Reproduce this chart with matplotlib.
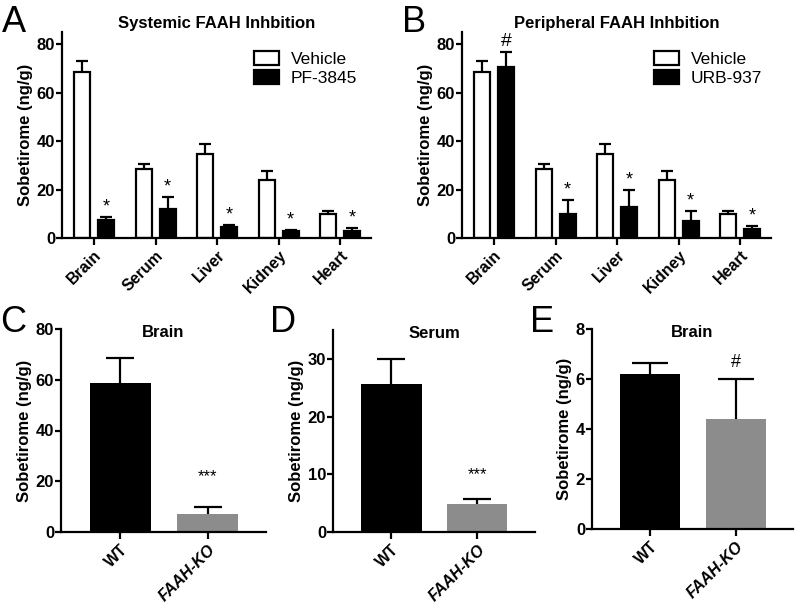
import numpy as np
import matplotlib
matplotlib.use('Agg')
import matplotlib.pyplot as plt

plt.rcParams['font.family'] = ['Liberation Sans', 'DejaVu Sans']

# panel A / B data
tissues = ['Brain', 'Serum', 'Liver', 'Kidney', 'Heart']
vehicle = [68.4, 28.3, 34.8, 23.9, 10.1]
vehicle_err = [4.8, 2.1, 3.9, 3.6, 1.1]
pf3845 = [7.5, 12.0, 4.7, 3.0, 3.0]
pf3845_err = [1.1, 4.9, 0.8, 0.4, 1.1]
urb937 = [70.4, 10.1, 12.8, 7.2, 3.7]
urb937_err = [6.4, 5.5, 7.1, 3.8, 1.4]
sig_a = ['*', '*', '*', '*', '*']
sig_b = ['#', '*', '*', '*', '*']

# panels C-E data
genotypes = ['WT', 'FAAH-KO']
brain_c = [58.8, 7.1]
brain_c_err = [9.6, 2.9]
serum_d = [25.6, 4.8]
serum_d_err = [4.4, 0.9]
brain_e = [6.21, 4.41]
brain_e_err = [0.44, 1.60]

W, H = 800, 607
fig = plt.figure(figsize=(8, 6.07), dpi=100)


def px_axes(left, right, top, bottom):
    return fig.add_axes([left / W, (H - bottom) / H, (right - left) / W, (bottom - top) / H])


def style(ax):
    for s in ['top', 'right']:
        ax.spines[s].set_visible(False)
    for s in ['left', 'bottom']:
        ax.spines[s].set_linewidth(1.6)
    ax.tick_params(axis='y', width=1.6, length=4, labelsize=12, pad=1)
    ax.tick_params(axis='x', width=1.6, length=5, labelsize=11.5, pad=2)
    for lab in ax.get_yticklabels():
        lab.set_fontweight('bold')
    ax.set_ylabel('Sobetirome (ng/g)', fontsize=12, fontweight='bold', labelpad=3)


def up_err(ax, x, vals, errs, cap):
    # one-sided (upper) error bars, lower cap hidden
    eb = ax.errorbar(x, vals, yerr=[np.zeros(len(vals)), errs], fmt='none',
                     ecolor='black', elinewidth=1.6, capsize=cap, capthick=1.6, zorder=1)
    eb[1][0].set_visible(False)


def grouped(ax, treat, treat_err, treat_name, sig, title):
    x = np.arange(len(tissues))
    off, w = 0.195, 0.26
    ax.bar(x - off, vehicle, w, color='white', edgecolor='black', linewidth=1.6,
           label='Vehicle', zorder=2)
    up_err(ax, x - off, vehicle, vehicle_err, 4)
    ax.bar(x + off, treat, w, color='black', edgecolor='black', linewidth=1.6,
           label=treat_name, zorder=2)
    up_err(ax, x + off, treat, treat_err, 4)
    for xi, v, e, s in zip(x, treat, treat_err, sig):
        ax.annotate(s, (xi + off, v + e), xytext=(0, 1), textcoords='offset points',
                    ha='center', va='bottom', fontsize=13 if s == '*' else 14,
                    annotation_clip=False)
    ax.set_xlim(-0.52, 4.5)
    ax.set_ylim(0, 85)
    ax.set_yticks([0, 20, 40, 60, 80])
    ax.set_xticks(x)
    ax.set_xticklabels(tissues, rotation=45, ha='right', rotation_mode='anchor',
                       fontweight='bold')
    style(ax)
    ax.legend(loc='upper left', bbox_to_anchor=(0.6, 0.94), frameon=False, fontsize=12.5,
              handlelength=1.4, handleheight=0.8, labelspacing=0.2, handletextpad=0.7,
              borderaxespad=0)
    ax.set_title(title, fontsize=12, fontweight='bold', pad=3)


def pair(ax, vals, errs, ymax, ticks, sig, sig_y, title, cap):
    x = np.arange(2)
    ax.bar(x, vals, 0.7, color=['black', '#8c8c8c'], zorder=2)
    up_err(ax, x, vals, errs, cap)
    ax.text(1, sig_y, sig, ha='center', va='center', fontsize=13 if sig == '#' else 12)
    ax.set_xlim(-0.68, 1.67)
    ax.set_ylim(0, ymax)
    ax.set_yticks(ticks)
    ax.set_xticks(x)
    ax.set_xticklabels(genotypes, rotation=45, ha='right', rotation_mode='anchor',
                       fontweight='bold')
    ax.get_xticklabels()[1].set_fontstyle('italic')
    style(ax)
    ax.text(0.5, 0.96, title, transform=ax.transAxes, ha='center', va='baseline',
            fontsize=12, fontweight='bold')


axA = px_axes(62, 371, 32, 238)
grouped(axA, pf3845, pf3845_err, 'PF-3845', sig_a, 'Systemic FAAH Inhbition')
axB = px_axes(462, 771, 32, 238)
grouped(axB, urb937, urb937_err, 'URB-937', sig_b, 'Peripheral FAAH Inhbition')

axC = px_axes(61, 266, 329, 532)
pair(axC, brain_c, brain_c_err, 80, [0, 20, 40, 60, 80], '***', 22, 'Brain', 10)
axD = px_axes(333, 535, 330, 532)
pair(axD, serum_d, serum_d_err, 35, [0, 10, 20, 30], '***', 9.9, 'Serum', 10)
axE = px_axes(592, 793, 329, 529)
pair(axE, brain_e, brain_e_err, 8, [0, 2, 4, 6, 8], '#', 6.65, 'Brain', 13)

for letter, xp, yp in [('A', 2, 32), ('B', 402, 32), ('C', 0, 332), ('D', 270, 332), ('E', 530, 332)]:
    fig.text(xp / W, (H - yp) / H, letter, fontsize=26, ha='left', va='baseline')

fig.savefig('out.png', dpi=100)
